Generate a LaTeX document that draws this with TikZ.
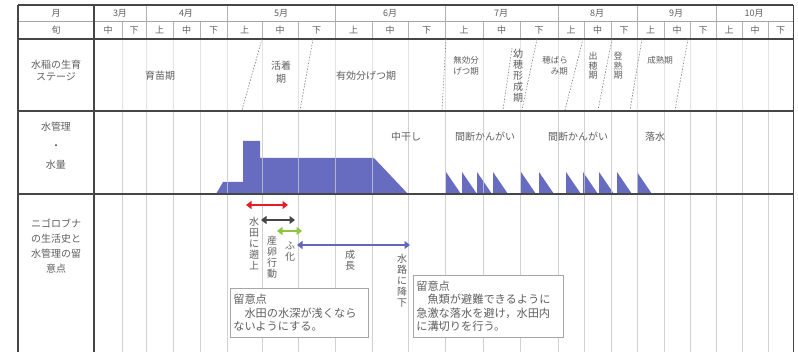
\documentclass[tikz,border=0pt]{standalone}
\usepackage{fontspec}
\setmainfont{Noto Sans CJK JP}
\usetikzlibrary{arrows.meta}
\definecolor{wblue}{RGB}{104,108,192}
\definecolor{txt}{RGB}{95,95,95}
\definecolor{frame}{RGB}{70,70,70}
\definecolor{ared}{RGB}{228,30,38}
\definecolor{adark}{RGB}{70,70,70}
\definecolor{agreen}{RGB}{140,198,63}
\definecolor{ablue}{RGB}{100,102,188}
\begin{document}
\begin{tikzpicture}[x=1pt,y=-1pt,
  hdr/.style={font=\fontsize{9}{10}\selectfont, text=txt, inner sep=0pt},
  lbl/.style={font=\fontsize{10}{12}\selectfont, text=txt, align=center, inner sep=0pt},
  small/.style={font=\fontsize{8.5}{11}\selectfont, text=txt, align=center, inner sep=0pt},
  vtx/.style={font=\fontsize{10}{11}\selectfont, text=txt, align=center, inner sep=0pt},
  vsm/.style={font=\fontsize{9}{9.6}\selectfont, text=txt, align=center, inner sep=0pt},
  dline/.style={dash pattern=on 1.5pt off 1.5pt, draw=gray, line width=0.6pt},
  thick frame/.style={draw=frame, line width=1.2pt},
  arr/.style={{Triangle[length=5.5pt,width=8pt]}-{Triangle[length=5.5pt,width=8pt]}, line width=2.6pt},
  note/.style={draw=gray!70, fill=white, line width=0.6pt, anchor=north west,
    font=\fontsize{11.2}{13.6}\selectfont, text=txt, align=left, inner sep=3pt}
]
\useasboundingbox[fill=white] (0,0) rectangle (798,352);

% water volume polygon
\fill[wblue] (216,194) -- (223,182) -- (243,182) -- (243,141) -- (260,141) -- (260,158)
  -- (374,158) -- (408,194) -- cycle;
\foreach \x in {446,462,477,493,521,539,566,583,599,617,637}{
  \fill[wblue] (\x,194) -- (\x,172) -- (\x+15,194) -- cycle;
}

% vertical grid lines
\foreach \x in {122,146,173,200,227,262,298,335,372,408,445,483,520,558,584,611,637,664,690,716,742,768}{
  \draw[gray!60, line width=0.5pt] (\x,21) -- (\x,39);
  \draw[gray!22, line width=0.5pt] (\x,39) -- (\x,111);
  \draw[gray!45, line width=0.5pt, opacity=0.8] (\x,111) -- (\x,352);
}
\foreach \x in {146,227,335,445,558,637,716}{
  \draw[gray!60, line width=0.5pt] (\x,5) -- (\x,21);
}

% horizontal lines and frame
\draw[gray!70, line width=0.6pt] (18,21) -- (793,21);
\draw[thick frame] (18,5) -- (793,5);
\draw[thick frame] (18,39) -- (793,39);
\draw[thick frame] (18,111) -- (793,111);
\draw[thick frame] (18,194) -- (793,194);
\draw[thick frame] (18,5) -- (18,352);
\draw[thick frame] (94,5) -- (94,352);
\draw[frame, line width=0.9pt] (793,5) -- (793,352);

% header
\node[hdr] (hm) at (56,13) {月};
\node[hdr] (hj) at (56,30) {旬};
\node[hdr] (m3) at (120,13) {3月};
\node[hdr] (m4) at (186,13) {4月};
\node[hdr] (m5) at (281,13) {5月};
\node[hdr] (m6) at (390,13) {6月};
\node[hdr] (m7) at (501,13) {7月};
\node[hdr] (m8) at (597,13) {8月};
\node[hdr] (m9) at (676,13) {9月};
\node[hdr] (m10) at (754,13) {10月};
\foreach \a/\b/\t [count=\i] in {94/122/中,122/146/下,146/173/上,173/200/中,200/227/下,
  227/262/上,262/298/中,298/335/下,335/372/上,372/408/中,408/445/下,445/483/上,483/520/中,
  520/558/下,558/584/上,584/611/中,611/637/下,637/664/上,664/690/中,690/716/下,716/742/上,
  742/768/中,768/793/下}{
  \node[hdr] (j\i) at ({(\a+\b)/2},30) {\t};
}

% row labels
\node[lbl] (lstage) at (56,71) {水稲の生育\\ステージ};
\node[lbl, font=\fontsize{10}{19}\selectfont] (lwater) at (56,146) {水管理\\・\\水量};
\node[lbl, font=\fontsize{10}{15}\selectfont] (lfish) at (56,246) {ニゴロブナ\\の生活史と\\水管理の留\\意点};

% growth stages
\draw[dline] (262,39) -- (242,110);
\draw[dline] (313,39) -- (300,110);
\draw[dline] (446,39) -- (442,110);
\draw[dline] (512,48) -- (503,110);
\draw[dline] (537,39) -- (522,110);
\draw[dline] (583,39) -- (565,110);
\draw[dline] (612,39) -- (598,110);
\draw[dline] (642,39) -- (630,110);
\draw[dline] (688,39) -- (675,110);

\node[lbl] (s1) at (160,76) {育苗期};
\node[lbl, font=\fontsize{10}{13}\selectfont] (s2) at (281,72) {活着\\期};
\node[lbl] (s3) at (366,76) {有効分げつ期};
\node[small] (s4) at (466,66) {無効分\\げつ期};
\node[vtx] (s5) at (518,76) {幼\\穂\\形\\成\\期};
\node[small, align=right] (s6) at (555,66) {穂ばら\\み期};
\node[vsm] (s7) at (593,66) {出\\穂\\期};
\node[vsm] (s8) at (618,66) {登\\熟\\期};
\node[small] (s9) at (660,60) {成熟期};

% water management labels
\node[lbl] (w1) at (406,137) {中干し};
\node[lbl] (w2) at (485,137) {間断かんがい};
\node[lbl] (w3) at (578,137) {間断かんがい};
\node[lbl] (w4) at (655,137) {落水};

% life history arrows
\coordinate (ra) at (246,205); \coordinate (rb) at (288,205);
\coordinate (da) at (261,220); \coordinate (db) at (295,220);
\coordinate (ga) at (277,231); \coordinate (gb) at (302,231);
\coordinate (ba) at (297,245); \coordinate (bb) at (410,245);
\draw[arr, ared] (ra) -- (rb);
\draw[arr, adark] (da) -- (db);
\draw[arr, agreen] (ga) -- (gb);
\draw[arr, ablue] (ba) -- (bb);

\node[vtx] (f1) at (254,243) {水\\田\\に\\遡\\上};
\node[vtx] (f2) at (272,257) {産\\卵\\行\\動};
\node[vtx] (f3) at (290,252) {ふ\\化};
\node[vtx] (f4) at (350,260) {成\\長};
\node[vtx] (f5) at (402,281) {水\\路\\に\\降\\下};

% notes
\node[note, minimum width=138pt, minimum height=49pt, text width=132pt] (n1) at (230,288)
  {留意点\\\hspace*{1em}水田の水深が浅くなら\\ないようにする。};
\node[note, minimum width=150pt, minimum height=62pt, text width=144pt] (n2) at (413,275)
  {留意点\\\hspace*{1em}魚類が避難できるように\\急激な落水を避け，水田内\\に溝切りを行う。};
\end{tikzpicture}
\end{document}
